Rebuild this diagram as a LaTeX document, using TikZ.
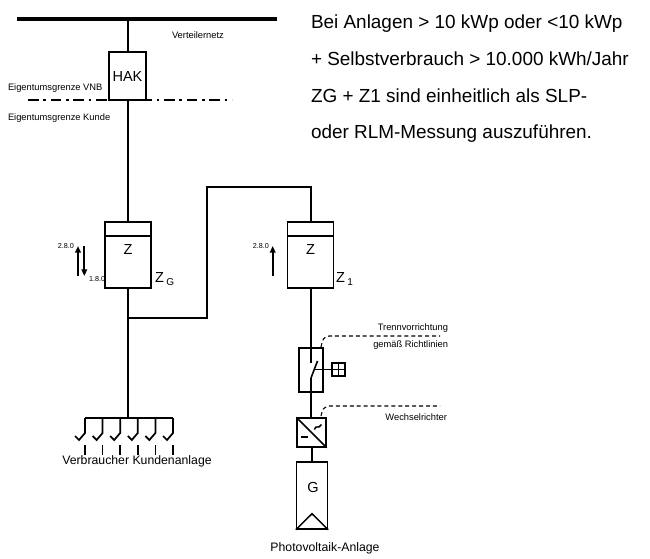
\documentclass[tikz,border=0pt]{standalone}
\usepackage{fontspec}
\setmainfont{Liberation Sans}
\usetikzlibrary{calc,arrows.meta}
\newcommand{\fsz}[1]{\fontsize{#1}{#1}\selectfont}
\tikzset{
  wire/.style={line width=1.5pt},
  bus/.style={line width=2.4pt},
  frame/.style={draw, line width=1.1pt, inner sep=0pt},
  txt/.style={inner sep=0pt, outer sep=0pt},
  lead/.style={line width=0.8pt, dash pattern=on 3pt off 2.2pt},
  arr/.style={line width=1.6pt, -{Triangle[length=5pt,width=4.2pt]}},
}
\begin{document}
\begin{tikzpicture}[x=0.75pt,y=-0.75pt]
\useasboundingbox (0,0) rectangle (650,558);
% bus
\coordinate (busL) at (17,19);
\coordinate (busR) at (277,19);
\coordinate (busT) at (127.5,19);
\draw[bus] (busL) -- (busR);
\node[txt, anchor=west] (vn) at (172,35) {\fsz{7}Verteilernetz};
% HAK
\node[frame, minimum width=27.75pt, minimum height=36pt] (hak) at (127.5,76) {\fsz{10.9}HAK};
\draw[wire] (busT) -- (hak.north);
% boundary
\coordinate (dl) at (28,100);
\coordinate (dr) at (232,100);
\draw[line width=1.1pt, dash pattern=on 8pt off 3.5pt on 2pt off 3.5pt] (dl) -- (dr);
\node[txt, anchor=west] (evnb) at (8,88) {\fsz{7}Eigentumsgrenze VNB};
\node[txt, anchor=west] (ek) at (8,118) {\fsz{7}Eigentumsgrenze Kunde};
% meters
\node[frame, minimum width=34.5pt, minimum height=49.5pt] (zg) at (128,255) {};
\node[frame, minimum width=34.5pt, minimum height=49.5pt] (z1) at (310.5,255) {};
\draw[line width=1.4pt] ($(zg.north west)+(0,15)$) -- ($(zg.north east)+(0,15)$);
\draw[line width=1.4pt] ($(z1.north west)+(0,15)$) -- ($(z1.north east)+(0,15)$);
\node[txt] (zgz) at (128,249) {\fsz{10.9}Z};
\node[txt] (z1z) at (310.5,249) {\fsz{10.9}Z};
\node[txt, anchor=base west] (zgl) at (155,282) {\fsz{10.9}Z\,\raisebox{-2.5pt}{\fsz{7.5}G}};
\node[txt, anchor=base west] (z1l) at (336,282) {\fsz{10.9}Z\,\raisebox{-2.5pt}{\fsz{7.5}1}};
\draw[wire] (hak.south) -- (hak.south |- zg.north);
% arrows
\draw[arr] (78,276) -- (78,246);
\draw[arr] (84.3,246) -- (84.3,276);
\draw[arr] (272.7,276) -- (272.7,246);
\node[txt, anchor=east] (l28g) at (74,246) {\fsz{5.4}2.8.0};
\node[txt, anchor=west] (l18g) at (89,279) {\fsz{5.4}1.8.0};
\node[txt, anchor=east] (l281) at (269,246) {\fsz{5.4}2.8.0};
% link ZG -> Z1
\coordinate (j1) at (127.5,318);
\coordinate (j2) at (207,318);
\coordinate (j3) at (207,187);
\coordinate (j4) at (311,187);
\draw[wire] (j1) -- (j2) -- (j3) -- (j4) -- (j4 |- z1.north);
% consumers
\coordinate (cb) at (127.5,418);
\draw[wire] (zg.south -| cb) -- (cb);
\draw[wire] (85,418) -- (173,418);
\foreach \x in {85,102.6,120.2,137.8,155.4,173}{
  \draw[line width=1.3pt] (\x,418) -- (\x,433) -- (\x-6,440) -- (\x-10,436);
  \draw[line width=1.3pt] (\x,445) -- (\x,455);
}
\node[txt] (vk) at (137,461) {\fsz{9.2}Verbraucher Kundenanlage};
% Trennvorrichtung
\node[frame, minimum width=18pt, minimum height=33pt] (tv) at (311,370) {};
\draw[wire] (z1.south -| tv.north) -- (tv.north);
\draw[line width=1.2pt] (tv.north) -- (311,363);
\draw[line width=1.2pt] (311,378) -- (317.5,361);
\draw[line width=1.2pt] (311,378) -- (tv.south);
\node[frame, minimum width=9.75pt, minimum height=9.75pt] (sq) at (338.5,369.5) {};
\draw[line width=1pt] (sq.north) -- (sq.south) (sq.west) -- (sq.east);
\draw[line width=1.1pt] (314.5,369.5) -- (sq.west);
\coordinate (tl) at (440,336);
\draw[lead] (321,347) .. controls (323,338) .. (329,336) -- (tl);
\node[txt, anchor=east] (tv1) at (448,328) {\fsz{7}Trennvorrichtung};
\node[txt, anchor=east] (tv2) at (448,345) {\fsz{7}gemäß Richtlinien};
% Wechselrichter
\node[frame, minimum width=21.75pt, minimum height=21.75pt] (wr) at (311.5,432.5) {};
\draw[wire] (tv.south) -- (tv.south |- wr.north);
\draw[line width=1.1pt] (wr.north west) -- (wr.south east);
\draw[line width=2.2pt] (301,437) -- (308,437);
\draw[line width=1.1pt] (314.5,429.5) .. controls (316,424) and (318,430) .. (321.5,424.5);
\coordinate (wl) at (440,406);
\draw[lead] (321,416) .. controls (323,408) .. (329,406) -- (wl);
\node[txt, anchor=east] (wrt) at (447,417) {\fsz{7}Wechselrichter};
% PV generator
\node[frame, minimum width=23.25pt, minimum height=50.25pt] (g) at (312,495.5) {};
\draw[wire] (wr.south) -- (wr.south |- g.north);
\node[txt] (gt) at (313,487) {\fsz{10.9}G};
\draw[line width=1.1pt] (g.south west) -- ($(g.south)+(0,-16)$) -- (g.south east);
\node[txt] (pv) at (325,548) {\fsz{9.2}Photovoltaik-Anlage};
% note
\node[txt, anchor=base west] (n1) at (311,28) {\fsz{14.2}Bei Anlagen > 10 kWp oder <10 kWp};
\node[txt, anchor=base west] (n2) at (311,65) {\fsz{14.2}+ Selbstverbrauch > 10.000 kWh/Jahr};
\node[txt, anchor=base west] (n3) at (311,102) {\fsz{14.2}ZG + Z1 sind einheitlich als SLP-};
\node[txt, anchor=base west] (n4) at (311,138) {\fsz{14.2}oder RLM-Messung auszuführen.};
\end{tikzpicture}
\end{document}
